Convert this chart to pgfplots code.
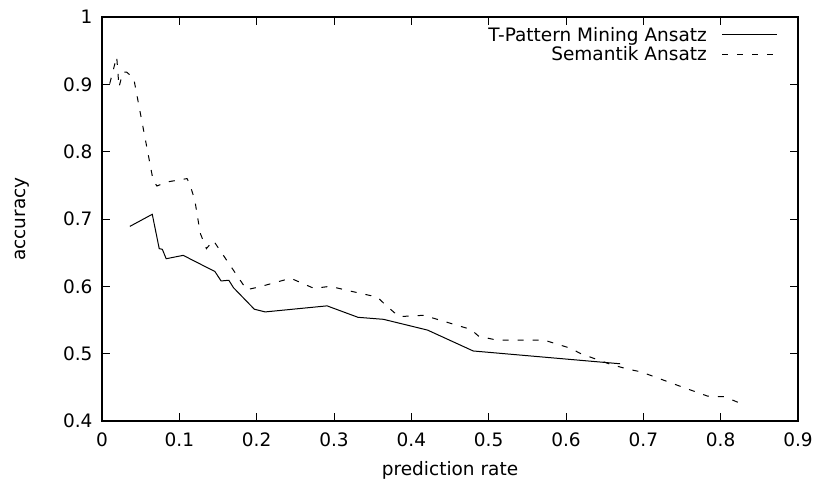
\documentclass[border=0pt]{standalone}
\usepackage{pgfplots}
\pgfplotsset{compat=1.18}
\usepackage{fontspec}
\setmainfont{DejaVu Sans}
\newcommand{\bigf}{\fontsize{18.5bp}{22bp}\selectfont}
\begin{document}
\begin{tikzpicture}[font=\bigf]
\begin{axis}[
  scale only axis,
  width=696bp, height=404bp,
  xmin=0, xmax=0.9, ymin=0.4, ymax=1,
  xtick={0,0.1,0.2,0.3,0.4,0.5,0.6,0.7,0.8,0.9},
  xticklabels={0,0.1,0.2,0.3,0.4,0.5,0.6,0.7,0.8,0.9},
  ytick={0.4,0.5,0.6,0.7,0.8,0.9,1},
  yticklabels={0.4,0.5,0.6,0.7,0.8,0.9,1},
  tick label style={font=\bigf},
  label style={font=\bigf},
  axis line style={line width=1.2bp},
  every tick/.style={black, line width=0.9bp},
  major tick length=8bp,
  tick align=inside, tick pos=both,
  yticklabel style={xshift=-6bp},
  xticklabel style={yshift=-8bp},
  xlabel={prediction rate}, ylabel={accuracy},
  every axis x label/.style={at={(rel axis cs:0.5,0)}, anchor=center, yshift=-49bp},
  every axis y label/.style={at={(rel axis cs:0,0.5)}, anchor=center, rotate=90, yshift=80bp},
  legend style={draw=none, fill=none, font=\bigf, at={(rel axis cs:1,1)}, anchor=north east, xshift=-17bp, yshift=-6bp, row sep=0bp, column sep=13bp},
  legend cell align=right,
  legend plot pos=right,
  legend image code/.code={\draw[#1] (0bp,0bp) -- (55bp,0bp);},
]
\addplot[black, line width=1bp] coordinates {
(0.036,0.689) (0.065,0.707) (0.074,0.656) (0.078,0.655) (0.083,0.641)
(0.105,0.646) (0.146,0.622) (0.154,0.608) (0.164,0.609) (0.170,0.598)
(0.197,0.566) (0.211,0.562) (0.291,0.571) (0.331,0.554) (0.364,0.551)
(0.421,0.535) (0.480,0.504) (0.670,0.485)
};
\addlegendentry{T-Pattern Mining Ansatz}
\addplot[black, line width=1bp, dash pattern=on 6bp off 9bp] coordinates {
(0.010,0.901) (0.019,0.941) (0.022,0.896) (0.027,0.918) (0.032,0.918)
(0.041,0.909) (0.066,0.758) (0.071,0.749) (0.084,0.755) (0.110,0.760)
(0.114,0.750) (0.120,0.728) (0.127,0.679) (0.135,0.656) (0.144,0.668)
(0.187,0.595) (0.203,0.599) (0.244,0.612) (0.274,0.597) (0.295,0.600)
(0.321,0.593) (0.356,0.584) (0.367,0.572) (0.384,0.555) (0.416,0.557)
(0.477,0.536) (0.487,0.526) (0.511,0.520) (0.572,0.520) (0.606,0.508)
(0.619,0.500) (0.658,0.484) (0.680,0.477) (0.697,0.473) (0.749,0.451)
(0.783,0.437) (0.805,0.436) (0.826,0.426)
};
\addlegendentry{Semantik Ansatz}
\end{axis}
\pgfresetboundingbox
\path[use as bounding box] ([shift={(-102bp,-69bp)}]current axis.south west) rectangle ([shift={(21bp,17bp)}]current axis.north east);
\end{tikzpicture}
\end{document}
